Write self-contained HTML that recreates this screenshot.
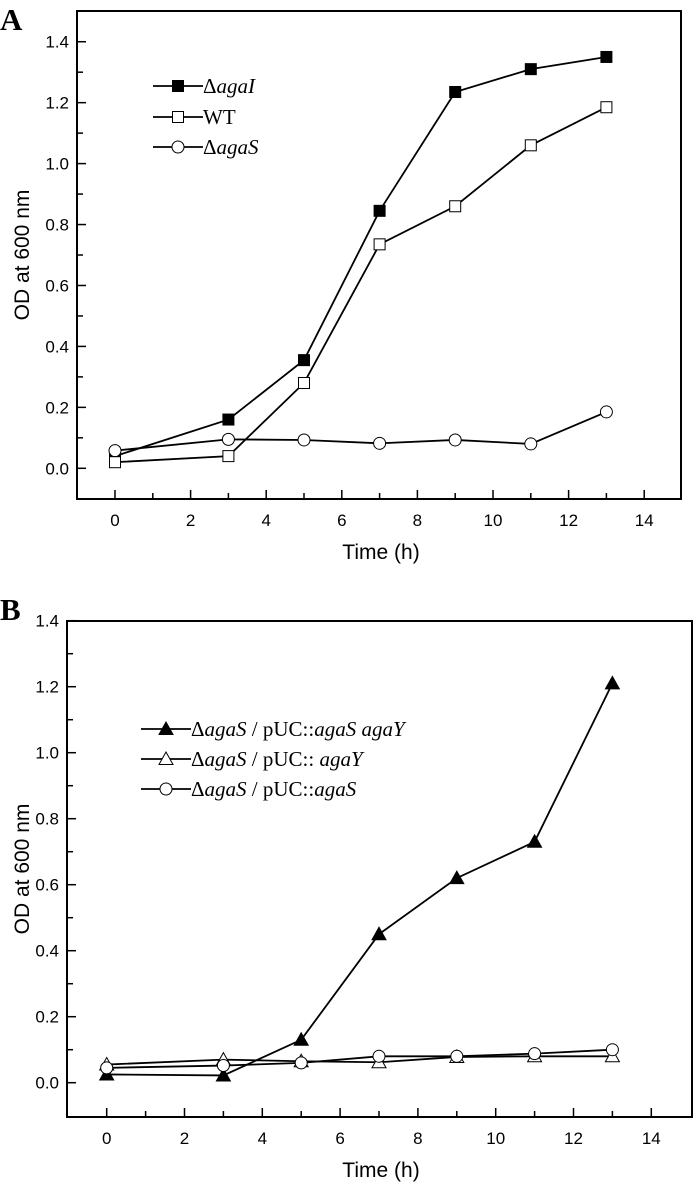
<!DOCTYPE html>
<html><head><meta charset="utf-8"><style>
html,body{margin:0;padding:0;background:#fff;}
svg{display:block;}
text{font-family:"Liberation Sans",sans-serif;fill:#000;}
.leg{font-family:"Liberation Serif",serif;font-size:21px;}
</style></head><body>
<svg id="chart" width="693" height="1184" xmlns="http://www.w3.org/2000/svg">
<text x="0" y="30" style="font-family:'Liberation Serif',serif;font-weight:bold;font-size:31px">A</text>
<text x="0" y="620" style="font-family:'Liberation Serif',serif;font-weight:bold;font-size:31px">B</text>
<g id="pa"></g>
<g id="pb"></g>
</svg>
<script>
const timesA = [0, 3, 5, 7, 9, 11, 13];
const agaIValues = [0.04, 0.16, 0.355, 0.845, 1.235, 1.31, 1.35];
const wtValues = [0.02, 0.04, 0.28, 0.735, 0.86, 1.06, 1.185];
const agaSValues = [0.058, 0.095, 0.093, 0.082, 0.093, 0.08, 0.185];
const timesB = [0, 3, 5, 7, 9, 11, 13];
const agaSYValues = [0.025, 0.022, 0.13, 0.45, 0.62, 0.73, 1.21];
const agaYValues = [0.055, 0.07, 0.065, 0.062, 0.078, 0.08, 0.08];
const agaSCompValues = [0.045, 0.052, 0.06, 0.08, 0.08, 0.088, 0.1];
const xTickLabels = ["0","2","4","6","8","10","12","14"];
const yTickLabels = ["0.0","0.2","0.4","0.6","0.8","1.0","1.2","1.4"];

const NS = "http://www.w3.org/2000/svg";
function mk(parent, tag, attrs, txt){
  const e = document.createElementNS(NS, tag);
  for (const k in attrs) e.setAttribute(k, attrs[k]);
  if (txt !== undefined) e.textContent = txt;
  parent.appendChild(e);
  return e;
}
function marker(g, type, cx, cy){
  let e;
  if (type === 'sqf' || type === 'sqo') {
    e = mk(g, 'rect', {x: cx-5.5, y: cy-5.5, width: 11, height: 11, fill: type==='sqf'?'#000':'#fff', stroke: '#000', 'stroke-width': 1});
  } else if (type === 'circ') {
    e = mk(g, 'circle', {cx: cx, cy: cy, r: 6, fill: '#fff', stroke: '#000', 'stroke-width': 1});
  } else {
    e = mk(g, 'polygon', {points: `${cx},${cy-7} ${cx-7},${cy+5.5} ${cx+7},${cy+5.5}`, fill: type==='trif'?'#000':'#fff', stroke: '#000', 'stroke-width': 1});
  }
  return e;
}
function panel(g, cfg){
  const X = v => cfg.x0 + v * cfg.xs;
  const Y = v => cfg.y0 - v * cfg.ys;
  const frame = mk(g, 'rect', {x: cfg.L, y: cfg.T, width: cfg.R-cfg.L, height: cfg.B-cfg.T, fill: 'none', stroke: '#000', 'stroke-width': 2});
  
  
  for (let i = 0; i < 15; i++) {
    const major = i % 2 === 0;
    const t = mk(g, 'line', {x1: X(i), x2: X(i), y1: cfg.B, y2: cfg.B - (major?9:6), stroke: '#000', 'stroke-width': 1.5});
    
    
  }
  xTickLabels.forEach((lab, i) => {
    const t = mk(g, 'text', {x: X(i*2), y: cfg.B + 27, 'text-anchor': 'middle', 'font-size': 17}, lab);
    
    
  });
  for (let i = 0; i < 15; i++) {
    const v = i * 0.1;
    const major = i % 2 === 0;
    const t = mk(g, 'line', {x1: cfg.L, x2: cfg.L + (major?9:6), y1: Y(v), y2: Y(v), stroke: '#000', 'stroke-width': 1.5});
    
    
  }
  yTickLabels.forEach((lab, i) => {
    const t = mk(g, 'text', {x: cfg.L - 8, y: Y(i*0.2) + 6, 'text-anchor': 'end', 'font-size': 17}, lab);
    
    
  });
  const xt = mk(g, 'text', {x: cfg.xTitleX, y: cfg.xTitleY, 'text-anchor': 'middle', 'font-size': 21}, 'Time (h)');
  
  
  const cy = (cfg.T + cfg.B)/2;
  const yt = mk(g, 'text', {x: 22, y: cy, 'text-anchor': 'middle', 'font-size': 21, transform: `rotate(-90 22 ${cy})`, dy: 7}, 'OD at 600 nm');
  
  
  cfg.series.forEach(s => {
    const sg = mk(g, 'g', {});
    
    
    const pts = s.vals.map((v, i) => `${X(cfg.times[i])},${Y(v)}`).join(' ');
    const ln = mk(sg, 'polyline', {points: pts, fill: 'none', stroke: '#000', 'stroke-width': 1.8});
    
    
    s.vals.forEach((v, i) => {
      const m = marker(sg, s.m, X(cfg.times[i]), Y(v));
      
      
    });
  });
  cfg.series.forEach((s, k) => {
    const ly = cfg.legY[k];
    const lg = mk(g, 'g', {});
    
    
    mk(lg, 'line', {x1: cfg.legX, x2: cfg.legX + 50, y1: ly, y2: ly, stroke: '#000', 'stroke-width': 1.8});
    marker(lg, s.m, cfg.legX + 25, ly);
    const t = mk(lg, 'text', {x: cfg.legX + 50, y: ly + 7, class: 'leg'});
    t.innerHTML = s.label;
  });
}
panel(document.getElementById('pa'), {
  L: 77, R: 681, T: 11, B: 499, x0: 115, xs: 37.8, y0: 468.3, ys: 304.7, xTitleX: 381, xTitleY: 559,
  times: timesA, legX: 153, legY: [86, 117, 147],
  series: [
    {name: 'agaI-series', vals: agaIValues, m: 'sqf', label: 'Δ<tspan font-style="italic">agaI</tspan>'},
    {name: 'wt-series', vals: wtValues, m: 'sqo', label: 'WT'},
    {name: 'agaS-series', vals: agaSValues, m: 'circ', label: 'Δ<tspan font-style="italic">agaS</tspan>'}
  ]
});
panel(document.getElementById('pb'), {
  L: 67, R: 692, T: 621, B: 1117, x0: 106.7, xs: 38.9, y0: 1082.7, ys: 330, xTitleX: 381, xTitleY: 1177,
  times: timesB, legX: 141, legY: [729, 759, 789],
  series: [
    {name: 'agaS-agaY-series', vals: agaSYValues, m: 'trif', label: 'Δ<tspan font-style="italic">agaS</tspan> / pUC::<tspan font-style="italic">agaS agaY</tspan>'},
    {name: 'agaY-series', vals: agaYValues, m: 'trio', label: 'Δ<tspan font-style="italic">agaS</tspan> / pUC:: <tspan font-style="italic">agaY</tspan>'},
    {name: 'agaS-comp-series', vals: agaSCompValues, m: 'circ', label: 'Δ<tspan font-style="italic">agaS</tspan> / pUC::<tspan font-style="italic">agaS</tspan>'}
  ]
});
</script>
</body></html>
